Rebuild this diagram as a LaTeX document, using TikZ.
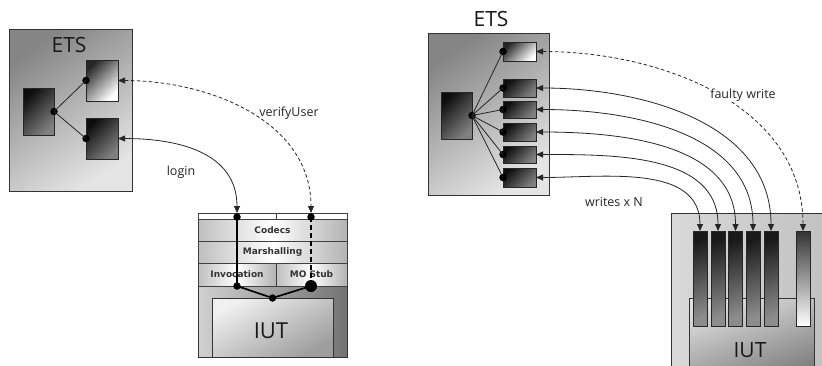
\documentclass[tikz,border=0pt]{standalone}
\usepackage{fontspec}
\setmainfont{Open Sans}
\newfontfamily\layerfont{DejaVu Sans}
\usetikzlibrary{arrows.meta}
\tikzset{
  etsbg/.style={draw=black!80, line width=0.8pt, top color=black!48, bottom color=black!10, shading angle=35, inner sep=0pt, outer sep=0pt, anchor=north west},
  darkbox/.style={draw=black!85, line width=0.6pt, top color=black!95, bottom color=black!50, shading angle=45, inner sep=0pt, outer sep=0pt, anchor=north west},
  lightbox/.style={draw=black!85, line width=0.6pt, top color=black!85, bottom color=white, shading angle=45, inner sep=0pt, outer sep=0pt, anchor=north west},
  layer/.style={draw=black!75, line width=0.6pt, left color=black!25, right color=black!30, middle color=white, inner sep=0pt, outer sep=0pt, anchor=north west},
  jdot/.style={circle, fill=black, inner sep=0pt, minimum size=7.5pt},
  bigdot/.style={circle, fill=black, inner sep=0pt, minimum size=12pt},
  link/.style={line width=0.8pt, black!85},
  arr/.style={{Triangle[length=7pt,width=6pt]}-{Triangle[length=7pt,width=6pt]}, line width=0.8pt, black!85},
  darr/.style={arr, dash pattern=on 3.5pt off 2.5pt},
  lbl/.style={font=\fontsize{12.5}{14}\selectfont, text=black!85},
  layertxt/.style={font=\layerfont\bfseries\fontsize{9}{10}\selectfont, text=black!80},
  thick1/.style={line width=1.7pt, black},
  thickd/.style={line width=1.7pt, black, dash pattern=on 5pt off 3pt},
  bar/.style={draw=black!85, line width=0.6pt, top color=black!90, bottom color=black!45, shading angle=20, inner sep=0pt, outer sep=0pt, anchor=north west, minimum width=14pt, minimum height=95pt},
  lbar/.style={bar, top color=black!80, bottom color=white},
}
\begin{document}
\begin{tikzpicture}[x=1pt,y=-1pt]
\useasboundingbox (0,0) rectangle (822,365);
\clip (0,0) rectangle (822,365);
\fill[white] (0,0) rectangle (822,365);

% ---------------- left ETS ----------------
\node[etsbg, minimum width=123pt, minimum height=162pt] (ets1) at (9,29) {};
\node[font=\fontsize{21}{23}\selectfont, text=black!90] (ets1t) at (69,45) {ETS};
\node[darkbox, minimum width=31pt, minimum height=47pt] (c1) at (23,88) {};
\node[lightbox, minimum width=32pt, minimum height=41pt] (p1) at (86,60) {};
\node[darkbox, minimum width=32pt, minimum height=41pt] (p2) at (86,118) {};
\node[jdot] (d0) at (c1.east) {};
\node[jdot] (d1) at (p1.west) {};
\node[jdot] (d2) at (p2.west) {};
\draw[link] (d0.center) -- (d1.center);
\draw[link] (d0.center) -- (d2.center);

% ---------------- left IUT stack ----------------
\node[draw=black!80, line width=0.8pt, left color=black!18, right color=black!55, inner sep=0pt, outer sep=0pt, anchor=north west, minimum width=149pt, minimum height=144pt] (stack) at (198,213) {};
\node[layer, left color=white, right color=white, middle color=white, minimum width=78pt, minimum height=6pt] (s1a) at (198,213) {};
\node[layer, left color=white, right color=white, middle color=white, minimum width=71pt, minimum height=6pt] (s1b) at (276,213) {};
\node[layer, minimum width=149pt, minimum height=22pt] (codecs) at (198,219) {};
\node[layer, minimum width=149pt, minimum height=22pt] (marsh) at (198,241) {};
\node[layer, minimum width=78pt, minimum height=23pt] (invoc) at (198,263) {};
\node[layer, minimum width=71pt, minimum height=23pt] (mostub) at (276,263) {};
\node[layertxt] at (codecs.center) {Codecs};
\node[layertxt] at (marsh.center) {Marshalling};
\node[layertxt] at (invoc.center) {Invocation};
\node[layertxt] at (mostub.center) {MO Stub};
\node[draw=black!80, line width=0.8pt, top color=black!6, bottom color=black!38, shading angle=30, inner sep=0pt, outer sep=0pt, anchor=north west, minimum width=121pt, minimum height=59pt] (iut1) at (212,298) {};
\node[font=\fontsize{22}{24}\selectfont, text=black!90] at (271,331) {IUT};

\node[jdot] (t1) at (237,217) {};
\node[jdot] (t2) at (311,217) {};
\node[jdot] (b1) at (237,286) {};
\node[jdot] (b0) at (iut1.north) {};
\node[bigdot] (b2) at (311,286) {};
\draw[thick1] (t1.center) -- (b1.center) -- (b0.center) -- (b2.center);
\draw[thickd] (t2.center) -- (b2.center);

\coordinate (t1a) at (237,213);
\coordinate (t2a) at (311,213);
\draw[arr] (p2.east) to[out=0,in=90,looseness=1.1] (t1a);
\draw[darr] (p1.east) to[out=0,in=90,looseness=1.0] (t2a);
\node[lbl] at (181,172) {login};
\node[lbl] at (289,113) {verifyUser};

% ---------------- right ETS ----------------
\node[font=\fontsize{21}{23}\selectfont, text=black!90] (ets2t) at (491,19) {ETS};
\node[etsbg, minimum width=121pt, minimum height=162pt] (ets2) at (428,33) {};
\node[darkbox, minimum width=31pt, minimum height=47pt] (c2) at (441,92) {};
\node[lightbox, minimum width=33pt, minimum height=19pt] (q0) at (503,42) {};
\node[darkbox, minimum width=33pt, minimum height=18pt] (q1) at (503,79) {};
\node[darkbox, minimum width=33pt, minimum height=17pt] (q2) at (503,101) {};
\node[darkbox, minimum width=33pt, minimum height=18pt] (q3) at (503,123) {};
\node[darkbox, minimum width=33pt, minimum height=17pt] (q4) at (503,146) {};
\node[darkbox, minimum width=33pt, minimum height=19pt] (q5) at (503,168) {};
\node[jdot] (e0) at (c2.east) {};
\foreach \i in {0,...,5} {
  \node[jdot] (f\i) at (q\i.west) {};
  \draw[link] (e0.center) -- (f\i.center);
}

% ---------------- right IUT ----------------
\node[draw=black!80, line width=0.8pt, left color=black!15, right color=black!25, inner sep=0pt, outer sep=0pt, anchor=north west, minimum width=170pt, minimum height=170pt] (iut2o) at (671,213) {};
\node[draw=black!80, line width=0.8pt, top color=black!12, bottom color=black!50, shading angle=20, inner sep=0pt, outer sep=0pt, anchor=north west, minimum width=125pt, minimum height=80pt] (iut2) at (689,298) {};
\node[font=\fontsize{21}{23}\selectfont, text=black!90] at (750,350) {IUT};
\node[bar] (r1) at (693,231) {};
\node[bar] (r2) at (711,231) {};
\node[bar] (r3) at (728.5,231) {};
\node[bar] (r4) at (746,231) {};
\node[bar] (r5) at (764,231) {};
\node[lbar] (r0) at (796,231) {};

\draw[darr] (q0.east) to[out=0,in=90,looseness=1.0] (r0.north);
\draw[arr] (q1.east) to[out=0,in=90,looseness=1.0] (r5.north);
\draw[arr] (q2.east) to[out=0,in=90,looseness=1.0] (r4.north);
\draw[arr] (q3.east) to[out=0,in=90,looseness=1.0] (r3.north);
\draw[arr] (q4.east) to[out=0,in=90,looseness=1.0] (r2.north);
\draw[arr] (q5.east) to[out=0,in=90,looseness=1.0] (r1.north);
\node[lbl, fill=white, inner sep=1pt] at (743,95) {faulty write};
\node[lbl] at (614,202) {writes x N};
\end{tikzpicture}
\end{document}
